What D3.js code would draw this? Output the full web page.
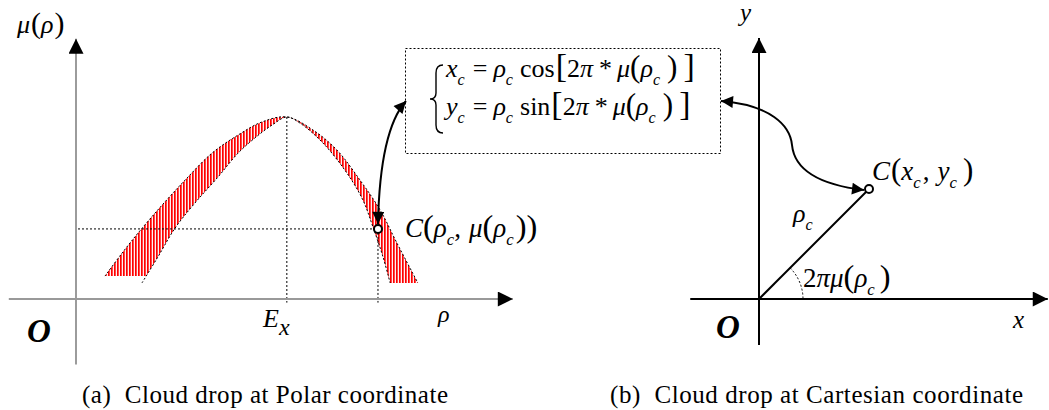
<!DOCTYPE html>
<html><head><meta charset="utf-8">
<script src="https://cdn.jsdelivr.net/npm/d3@7"></script>
<style>
html,body{margin:0;padding:0;background:#fff;}
svg{display:block;}
text{font-family:"Liberation Serif","Times New Roman",serif;fill:#000;}
</style></head><body>
<svg id="fig" width="1049" height="410"></svg>
<script>
// Outer (wider) edge of the cloud-drop band, [rho, mu]
const outerEdge = [[0.69,0.126],[1.10,0.253],[1.48,0.363],[2.05,0.516],[2.60,0.654],[3.24,0.802],[3.86,0.901],[4.43,0.973],[5.02,1.0],[5.64,0.929],[6.21,0.819],[6.76,0.654],[7.24,0.489],[7.64,0.308],[8.14,0.088]];
// Inner (narrower) edge of the band, [rho, mu]
const innerEdge = [[1.57,0.088],[1.95,0.231],[2.36,0.390],[2.83,0.527],[3.38,0.670],[3.86,0.802],[4.26,0.885],[4.67,0.956],[5.02,1.0],[5.33,0.967],[5.88,0.857],[6.45,0.692],[6.83,0.544],[7.07,0.396],[7.31,0.231],[7.48,0.088]];
// Where the hatched fill stops on each side (mu)
const bandFloor = [0.126, 0.088];
// Expectation and the sample drop in polar form
const expectation = 5.02;
const dropPolar = [7.19, 0.385];
// The same drop in Cartesian form
const dropCart = [4, 4];
// Axis extents (data units)
const polarRhoExtent = [-1.6, 10.4];
const polarMuExtent = [-0.36, 1.43];
const cartXExtent = [-2.5, 10.5];
const cartYExtent = [-1.67, 9.49];
const captions = ["(a)  Cloud drop at Polar coordinate", "(b)  Cloud drop at Cartesian coordinate"];

const svg = d3.select("#fig");

const defs = svg.append("defs");
const hatch = defs.append("pattern").attr("id","hatch").attr("patternUnits","userSpaceOnUse")
  .attr("width",3).attr("height",10);
hatch.append("rect").attr("width",3).attr("height",10).attr("fill","#fff0f0");
hatch.append("rect").attr("width",1).attr("height",10).attr("fill","#ff0000").attr("shape-rendering","crispEdges");
hatch.append("rect").attr("x",1).attr("width",1).attr("height",10).attr("fill","#ff4848").attr("shape-rendering","crispEdges");

function marker(id, len, wid) {
  defs.append("marker").attr("id", id).attr("markerUnits","userSpaceOnUse")
    .attr("viewBox","0 0 10 10").attr("refX",10).attr("refY",5)
    .attr("markerWidth",len).attr("markerHeight",wid).attr("orient","auto-start-reverse")
    .append("path").attr("d","M0,0L10,5L0,10Z").attr("fill","#000");
}
marker("axhead", 16, 15);
marker("head", 15, 12);

// Math-style label: tokens are [text, kind, size factor or dx, dx]
function math(x, y, size, toks) {
  const t = svg.append("text").attr("x", x).attr("y", y).attr("font-size", size);
  let shift = 0;
  toks.forEach(([s, k, extra, dx]) => {
    const sp = t.append("tspan").text(s);
    const target = k === "sub" ? size * 0.3 : 0;
    if (target !== shift) { sp.attr("dy", target - shift); shift = target; }
    if (k === "i" || k === "sub") sp.attr("font-style", "italic");
    if (k === "sub") sp.attr("font-size", size * 0.62);
    if (k === "b") sp.attr("font-style", "italic").attr("font-weight", "bold");
    if (k === "p") { sp.attr("font-size", size * (extra || 1.2)); if (dx) sp.attr("dx", dx); }
    if (k !== "p" && extra) sp.attr("dx", extra);
  });
  return t;
}

// ---------- (a) polar panel ----------
const xL = d3.scaleLinear().domain([0, 10]).range([76, 496]);
const yL = d3.scaleLinear().domain([0, 1]).range([299, 117]);
const edge = d3.line().x(d => xL(d[0])).y(d => yL(d[1])).curve(d3.curveCatmullRom.alpha(0.5));

// Inner edge point where the left fill stops
const [i0, i1] = innerEdge;
const tL = (bandFloor[0] - i0[1]) / (i1[1] - i0[1]);
const innerFill = [[i0[0] + tL * (i1[0] - i0[0]), bandFloor[0]]].concat(innerEdge.slice(1));
const innerRev = innerFill.slice().reverse();
const bandPath = edge(outerEdge) + edge(innerRev).replace(/^M/, "L") + "Z";

svg.append("path").attr("d", bandPath).attr("fill", "url(#hatch)");
svg.append("path").attr("d", edge(outerEdge)).attr("fill","none").attr("stroke","#000")
  .attr("stroke-width",1).attr("stroke-dasharray","2,2");
svg.append("path").attr("d", edge(innerEdge)).attr("fill","none").attr("stroke","#000")
  .attr("stroke-width",1).attr("stroke-dasharray","2,2");

// Guide lines
const guide = (x1,y1,x2,y2) => svg.append("line").attr("x1",x1).attr("y1",y1).attr("x2",x2).attr("y2",y2)
  .attr("stroke","#000").attr("stroke-width",1).attr("stroke-dasharray","2,2");
guide(xL(0)+2, yL(dropPolar[1]), xL(dropPolar[0]), yL(dropPolar[1]));
guide(xL(expectation), yL(1), xL(expectation), yL(-0.02));
guide(xL(dropPolar[0]), yL(dropPolar[1]), xL(dropPolar[0]), yL(-0.02));

// Axes
svg.append("line").attr("x1", xL(0)).attr("x2", xL(0)).attr("y1", yL(polarMuExtent[0])).attr("y2", yL(polarMuExtent[1]))
  .attr("stroke","#666").attr("stroke-width",1.3).attr("marker-end","url(#axhead)");
svg.append("line").attr("x1", xL(polarRhoExtent[0])).attr("x2", xL(polarRhoExtent[1])).attr("y1", yL(0)).attr("y2", yL(0))
  .attr("stroke","#999").attr("stroke-width",2).attr("marker-end","url(#axhead)");

// Arrow linking the polar drop to the conversion formulas
const cL = [xL(dropPolar[0]), yL(dropPolar[1])];
const boxTarget = [406, 101];
svg.append("path")
  .attr("d", `M${cL[0]},${cL[1]-5}Q${cL[0]+2},${130} ${boxTarget[0]},${boxTarget[1]}`)
  .attr("fill","none").attr("stroke","#000").attr("stroke-width",2)
  .attr("marker-start","url(#head)").attr("marker-end","url(#head)");

svg.append("circle").attr("cx", cL[0]).attr("cy", cL[1]).attr("r",4)
  .attr("fill","#fff").attr("stroke","#000").attr("stroke-width",2);

// Labels
math(17, 33, 26, [["μ","i"],["(","p",1.15,1],["ρ","i"],[")","p",1.15,1]]);
math(27, 342, 33, [["O","b"]]);
math(263, 327, 26, [["E","i"],["x","sub"]]).select("tspan:last-child").attr("font-size", 24);
math(438, 322, 24, [["ρ","i"]]);
math(405, 237, 27, [["C","i"],["(","p",1.2],["ρ","i"],["c","sub"],[",","r"],["μ","i",8],["(","p",1.2],["ρ","i"],["c","sub"],[")","p",1.2,2],[")","p",1.2]]);

// Conversion formulas box
svg.append("rect").attr("x",405.5).attr("y",48.5).attr("width",315).attr("height",105)
  .attr("fill","none").attr("stroke","#000").attr("stroke-width",1).attr("stroke-dasharray","2,2");
svg.append("path").attr("d","M443,65Q436,65 436,73L436,93Q436,99 430,99Q436,99 436,105L436,125Q436,133 443,133")
  .attr("fill","none").attr("stroke","#000").attr("stroke-width",1.4);
const eqTail = [["[","p",1.3,1],["2","r"],["π","i"],["*","r",6],["μ","i",5],["(","p",1.2],["ρ","i"],["c","sub"],[")","p",1.2,7],["]","p",1.3,6]];
math(446, 77, 26, [["x","i"],["c","sub"],["=","r",8],["ρ","i",6],["c","sub"],["cos","r",7]].concat(eqTail));
math(446, 115, 26, [["y","i"],["c","sub"],["=","r",8],["ρ","i",6],["c","sub"],["sin","r",7]].concat(eqTail));

// ---------- (b) Cartesian panel ----------
const xR = d3.scaleLinear().domain([0, 10]).range([759, 1034]);
const yR = d3.scaleLinear().domain([0, 10]).range([299, 24]);

svg.append("line").attr("x1", xR(cartXExtent[0])).attr("x2", xR(cartXExtent[1])).attr("y1", yR(0)).attr("y2", yR(0))
  .attr("stroke","#000").attr("stroke-width",2).attr("marker-end","url(#axhead)");
svg.append("line").attr("x1", xR(0)).attr("x2", xR(0)).attr("y1", yR(cartYExtent[0])).attr("y2", yR(cartYExtent[1]))
  .attr("stroke","#000").attr("stroke-width",2).attr("marker-end","url(#axhead)");

const cR = [xR(dropCart[0]), yR(dropCart[1])];
svg.append("line").attr("x1", xR(0)).attr("y1", yR(0)).attr("x2", cR[0]).attr("y2", cR[1])
  .attr("stroke","#000").attr("stroke-width",2);

// Angle arc
const ang = Math.atan2(dropCart[1], dropCart[0]);
const arcP = d3.path();
const rArc = xR(1.6) - xR(0);
arcP.arc(xR(0), yR(0), rArc, -ang, 0, false);
svg.append("path").attr("d", arcP.toString()).attr("fill","none").attr("stroke","#000")
  .attr("stroke-width",1).attr("stroke-dasharray","2,2");

// Arrow linking the formulas to the Cartesian drop
const boxSource = [721, 101];
svg.append("path")
  .attr("d", `M${boxSource[0]},${boxSource[1]}C770,105 790,125 792,145C795,175 ${cR[0]-39},${cR[1]-3} ${cR[0]-5},${cR[1]+1}`)
  .attr("fill","none").attr("stroke","#000").attr("stroke-width",2)
  .attr("marker-start","url(#head)").attr("marker-end","url(#head)");

svg.append("circle").attr("cx", cR[0]).attr("cy", cR[1]).attr("r",4)
  .attr("fill","#fff").attr("stroke","#000").attr("stroke-width",2);

math(740, 21, 25, [["y","i"]]);
math(1013, 328, 25, [["x","i"]]);
math(716, 338, 33, [["O","b"]]);
math(793, 222, 26, [["ρ","i"],["c","sub"]]);
math(803, 287, 27, [["2","r"],["π","i"],["μ","i"],["(","p",1.2],["ρ","i"],["c","sub"],[")","p",1.2,5]]);
math(872, 180, 27, [["C","i"],["(","p",1.15,1],["x","i"],["c","sub"],[",","r",2],["y","i",8],["c","sub"],[")","p",1.15,6]]);

// Captions
svg.append("text").attr("x", 82).attr("y", 403).attr("font-size", 25)
  .attr("textLength", 366).attr("lengthAdjust", "spacing").attr("xml:space","preserve").text(captions[0]);
svg.append("text").attr("x", 610).attr("y", 403).attr("font-size", 25)
  .attr("textLength", 413).attr("lengthAdjust", "spacing").attr("xml:space","preserve").text(captions[1]);
</script>
</body></html>
